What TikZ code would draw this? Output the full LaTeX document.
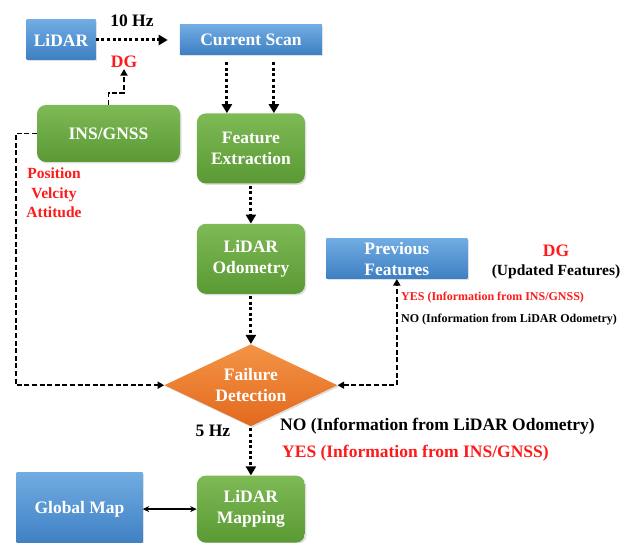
\documentclass[tikz,border=0pt]{standalone}
\usepackage{fontspec}
\setmainfont{Liberation Serif}
\usetikzlibrary{positioning,shapes.geometric,arrows.meta,shadows}
\definecolor{bluetop}{HTML}{71ACE2}
\definecolor{bluebot}{HTML}{3D7FC3}
\definecolor{greentop}{HTML}{7EBA55}
\definecolor{greenbot}{HTML}{5A9934}
\definecolor{orangetop}{HTML}{F49446}
\definecolor{orangebot}{HTML}{E2691D}
\definecolor{dgred}{HTML}{FF1A1A}
\newcommand{\boxfont}{\bfseries\fontsize{17.5}{20.5}\selectfont}
\tikzset{
  boxshadow/.style={drop shadow={opacity=0.25, shadow xshift=1.5pt, shadow yshift=-1.5pt}},
  bluebox/.style={rectangle, top color=bluetop, bottom color=bluebot, text=white,
    font=\boxfont, align=center, inner sep=0pt, boxshadow},
  greenbox/.style={rectangle, rounded corners=9pt, top color=greentop, bottom color=greenbot,
    text=white, font=\boxfont, align=center, inner sep=0pt,
    minimum width=108pt, minimum height=70pt, boxshadow},
  failbox/.style={diamond, aspect=2.1, top color=orangetop, bottom color=orangebot,
    text=white, font=\boxfont, align=center, inner sep=0pt,
    minimum width=173pt, minimum height=82pt, boxshadow},
  redlbl/.style={text=dgred, font=\boxfont, align=center, inner sep=1pt},
  blklbl/.style={text=black, font=\boxfont, align=center, inner sep=1pt},
  dotflow/.style={line width=3pt, dash pattern=on 3pt off 2.6pt,
    -{Triangle[width=10pt,length=9pt]}},
  dashflow/.style={line width=1.8pt, dash pattern=on 5pt off 2.6pt,
    -{Triangle[width=7pt,length=6.5pt]}}
}

\begin{document}
\begin{tikzpicture}[x=1pt,y=1pt]
	\useasboundingbox (0,0) rectangle (633,-543);
	
	\node[bluebox, minimum width=69pt, minimum height=40pt] (lidar) at (61,-40) {LiDAR};
	\node[bluebox, minimum width=142pt, minimum height=30pt, right=84pt of lidar] (scan) {Current Scan};
	\node[greenbox, below=58pt of scan] (feat) {Feature\\Extraction};
	\node[greenbox, below=40pt of feat] (odo) {LiDAR\\Odometry};
	\node[failbox, below=50pt of odo] (fail) {Failure\\Detection};
	\node[greenbox, minimum height=67pt, below=49pt of fail] (map) {LiDAR\\Mapping};
	\node[bluebox, minimum width=126pt, minimum height=74pt, left=54pt of map] (gmap) {Global Map};
	\node[greenbox, minimum width=143pt, minimum height=57pt] (ins) at (108.5,-133.5) {INS/GNSS};
	\node[bluebox, minimum width=141pt, minimum height=40pt, right=21pt of odo] (prev) {Previous\\Features};
	
	\def\sm{\bfseries\fontsize{12}{14}\selectfont}
	\def\md{\bfseries\fontsize{15.5}{19.5}\selectfont}
	
	\node[redlbl] (dgtop) at (124,-62) {DG};
	\node[blklbl] (hzten) at (132,-21) {10 Hz};
	\node[redlbl, font=\md] (pva) at (54,-193) {Position\\Velcity\\Attitude};
	\node[blklbl, font=\md] (upd) at (556,-262) {{\color{dgred}\fontsize{17.5}{19.5}\selectfont DG}\\(Updated Features)};
	\node[redlbl, font=\sm, anchor=west] (yessm) at (400,-298) {YES (Information from INS/GNSS)};
	\node[blklbl, font=\sm, anchor=west] (nosm) at (400,-320) {NO (Information from LiDAR Odometry)};
	\node[blklbl] (hzfive) at (213,-431) {5 Hz};
	\node[blklbl, anchor=west] (nobig) at (279,-426) {NO (Information from LiDAR Odometry)};
	\node[redlbl, anchor=west] (yesbig) at (281,-453) {YES (Information from INS/GNSS)};
	
	\draw[dotflow, shorten >=12pt] (lidar) -- (scan);
	\draw[dotflow, shorten <=7pt] ([xshift=-24pt]scan.south) -- ([xshift=-24pt]feat.north);
	\draw[dotflow, shorten <=7pt] ([xshift=23pt]scan.south) -- ([xshift=23pt]feat.north);
	\draw[dotflow, shorten <=2pt] (feat) -- (odo);
	\draw[dotflow, shorten <=2pt] (odo) -- (fail);
	\draw[dotflow, shorten <=2pt] (fail) -- (map);
	
	\draw[dashflow] (ins.north) -- ++(0,12) -| (dgtop.south);
	\draw[dashflow] (ins.west) -- ++(-21,0) |- (fail.west);
	\draw[dashflow, {Triangle[width=7pt,length=6.5pt]}-{Triangle[width=7pt,length=6.5pt]}] (fail.east) -| (prev.south);
	
	\draw[line width=1.4pt, {Stealth[width=6pt,length=6.5pt]}-{Stealth[width=6pt,length=6.5pt]}] (gmap) -- (map);
\end{tikzpicture}
\end{document}
